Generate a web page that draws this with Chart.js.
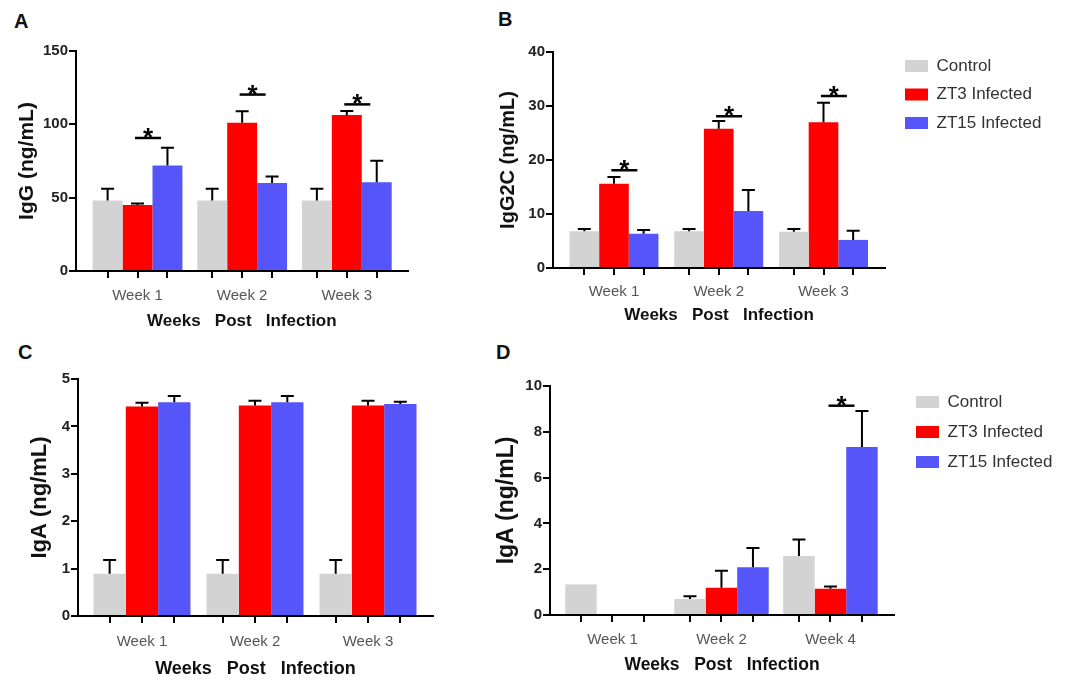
<!DOCTYPE html>
<html lang="en">
<head>
<meta charset="UTF-8" />
<title>Antibody titres by week</title>
<script src="https://cdn.jsdelivr.net/npm/chart.js"></script>
<style>
  body {
    margin: 0;
    background: #fff;
    width: 1082px;
    height: 682px;
    position: relative;
    overflow: hidden;
    font-family: Arial, "Liberation Sans", sans-serif;
  }
  canvas { position: absolute; }
  .panel {
    position: absolute;
    font-weight: bold;
    font-size: 20px;
    line-height: 20px;
    color: #111;
  }
</style>
</head>
<body>
<div class="panel" style="left:14px;top:11px">A</div>
<div class="panel" style="left:498px;top:9px">B</div>
<div class="panel" style="left:18px;top:342px">C</div>
<div class="panel" style="left:496px;top:342px">D</div>

<canvas id="chartA" width="480" height="340" style="left:0;top:0"></canvas>
<canvas id="chartB" width="602" height="340" style="left:480px;top:0"></canvas>
<canvas id="chartC" width="480" height="342" style="left:0;top:340px"></canvas>
<canvas id="chartD" width="602" height="342" style="left:480px;top:340px"></canvas>

<script>
  // groups and colours
  const groups = ["Control", "ZT3 Infected", "ZT15 Infected"];
  const colors = ["#d3d3d3", "#ff0000", "#5555fa"];

  const weeks = ["Week 1", "Week 2", "Week 3"];
  const weeksD = ["Week 1", "Week 2", "Week 4"];

  // A - IgG (ng/mL)
  const iggControl = [48, 48, 48];
  const iggControlErr = [8, 8, 8];
  const iggZT3 = [45, 101, 106.4];
  const iggZT3Err = [1, 8, 2.7];
  const iggZT15 = [72, 60, 60.5];
  const iggZT15Err = [12, 4.5, 14.7];
  const iggSig = [90.7, 120.3, 113.6]; // level of the * bar

  // B - IgG2C (ng/mL)
  const igg2cControl = [6.8, 6.8, 6.7];
  const igg2cControlErr = [0.4, 0.4, 0.5];
  const igg2cZT3 = [15.6, 25.8, 27.0];
  const igg2cZT3Err = [1.25, 1.4, 3.6];
  const igg2cZT15 = [6.35, 10.55, 5.2];
  const igg2cZT15Err = [0.7, 3.9, 1.7];
  const igg2cSig = [18.1, 28.1, 31.85];

  // C - IgA (ng/mL)
  const igaControl = [0.89, 0.89, 0.89];
  const igaControlErr = [0.29, 0.29, 0.29];
  const igaZT3 = [4.42, 4.44, 4.44];
  const igaZT3Err = [0.08, 0.1, 0.1];
  const igaZT15 = [4.51, 4.51, 4.47];
  const igaZT15Err = [0.13, 0.13, 0.05];

  // D - IgA (ng/mL), weeks 1, 2, 4
  const igaDControl = [1.34, 0.7, 2.58];
  const igaDControlErr = [0, 0.12, 0.72];
  const igaDZT3 = [0, 1.19, 1.15];
  const igaDZT3Err = [0, 0.74, 0.09];
  const igaDZT15 = [0, 2.08, 7.34];
  const igaDZT15Err = [0, 0.85, 1.57];
  const igaDSig = [null, null, 9.14];

  const family = 'Arial, "Liberation Sans", sans-serif';
  const legendFont = 17;

  // error bars (upper only) and significance marks
  const errorBars = {
    id: "errorBars",
    afterDatasetsDraw(chart, args, opts) {
      const ctx = chart.ctx;
      const ys = chart.scales.y;
      ctx.save();
      ctx.strokeStyle = "#000";
      ctx.lineWidth = 2;
      chart.data.datasets.forEach((ds, i) => {
        chart.getDatasetMeta(i).data.forEach((bar, j) => {
          const e = ds.errs[j];
          if (!e) return;
          const top = ys.getPixelForValue(ds.data[j].y + e);
          ctx.beginPath();
          ctx.moveTo(bar.x, bar.y);
          ctx.lineTo(bar.x, top);
          ctx.moveTo(bar.x - 6.5, top);
          ctx.lineTo(bar.x + 6.5, top);
          ctx.stroke();
        });
      });
      (opts.sig || []).forEach((lvl, j) => {
        if (lvl == null) return;
        const r = chart.getDatasetMeta(1).data[j];
        const b = chart.getDatasetMeta(2).data[j];
        const mid = (r.x + b.x) / 2 - 0.15 * r.width;
        const y = ys.getPixelForValue(lvl);
        ctx.lineWidth = 2.5;
        ctx.beginPath();
        ctx.moveTo(mid - 13, y);
        ctx.lineTo(mid + 13, y);
        ctx.stroke();
        ctx.fillStyle = "#000";
        ctx.font = "bold 26px " + family;
        ctx.textAlign = "center";
        ctx.textBaseline = "alphabetic";
        ctx.fillText("*", mid, y + 8);
      });
      ctx.restore();
    },
  };

  // nudge the legend away from the plot
  const legendShift = {
    id: "legendShift",
    afterLayout(chart, args, opts) {
      if (!opts.shift || !chart.legend) return;
      chart.legend.left += opts.shift;
      chart.legend.right += opts.shift;
    },
  };

  // width chart.js will give the vertical legend
  function legendWidth(pad) {
    const ctx = document.createElement("canvas").getContext("2d");
    ctx.font = legendFont + "px " + family;
    const w = Math.max(...groups.map((g) => ctx.measureText(g).width));
    return pad + 23 + legendFont / 2 + w + 10;
  }

  function makeChart(id, cfg) {
    const datasets = cfg.values.map((vals, i) => ({
      label: groups[i],
      data: vals.map((v, j) => ({ x: j, y: v })),
      errs: cfg.errs[i],
      backgroundColor: colors[i],
      borderWidth: 0,
      categoryPercentage: 3,
      barPercentage: 1,
    }));

    // one tick under every bar
    const tickValues = [];
    cfg.cats.forEach((c, k) => {
      tickValues.push(k - cfg.d, k, k + cfg.d);
    });

    const canvas = document.getElementById(id);
    const pad = Object.assign({}, cfg.pad);
    if (cfg.legend) {
      // right padding so that the plot ends at cfg.plotRight
      pad.right = canvas.width - cfg.plotRight - legendWidth(cfg.legendPad);
    }

    return new Chart(canvas, {
      type: "bar",
      data: { datasets },
      plugins: [errorBars, legendShift],
      options: {
        responsive: false,
        animation: false,
        devicePixelRatio: 1,
        layout: { padding: pad },
        plugins: {
          errorBars: { sig: cfg.sig },
          legendShift: { shift: cfg.legendShift || 0 },
          tooltip: { enabled: false },
          title: {
            display: !!cfg.spacer,
            text: " ",
            padding: 0,
            font: { size: cfg.spacer || 1, lineHeight: 1 },
          },
          legend: {
            display: !!cfg.legend,
            position: "right",
            align: "start",
            maxWidth: 400,
            labels: {
              boxWidth: 23,
              boxHeight: 12,
              padding: cfg.legendPad || 12,
              color: "#333",
              font: { size: legendFont, family },
            },
          },
        },
        scales: {
          x: {
            type: "linear",
            offset: false,
            bounds: "data",
            min: cfg.xMin,
            max: cfg.xMax,
            afterBuildTicks: (s) => {
              s.ticks = tickValues.map((v) => ({ value: v }));
            },
            afterFit: (s) => {
              s.height = cfg.xHeight;
            },
            ticks: {
              autoSkip: false,
              maxRotation: 0,
              padding: cfg.tickPad,
              color: "#555",
              font: { size: 15, family },
              callback: (v) => {
                const k = Math.round(v);
                return Math.abs(v - k) < 1e-6 ? cfg.cats[k] : "";
              },
            },
            grid: {
              offset: false,
              drawOnChartArea: false,
              color: "#000",
              lineWidth: 2,
              tickLength: 7,
            },
            border: { color: "#000", width: 2 },
            title: {
              display: true,
              text: "Weeks   Post   Infection",
              color: "#111",
              font: { size: cfg.xTitleSize, weight: "bold", family },
              padding: { top: 0, bottom: cfg.xTitlePad },
            },
          },
          y: {
            min: 0,
            max: cfg.yMax,
            afterFit: (s) => {
              s.width = cfg.yWidth;
            },
            ticks: {
              stepSize: cfg.yStep,
              padding: 1,
              color: "#222",
              font: { size: 15, weight: "bold", family },
            },
            grid: { drawOnChartArea: false, color: "#000", lineWidth: 2, tickLength: 7 },
            border: { color: "#000", width: 2 },
            title: {
              display: true,
              text: cfg.yTitle,
              color: "#111",
              font: { size: cfg.yTitleSize, weight: "bold", family },
              padding: { top: cfg.yTitlePad, bottom: 0 },
            },
          },
        },
      },
    });
  }

  makeChart("chartA", {
    cats: weeks,
    values: [iggControl, iggZT3, iggZT15],
    errs: [iggControlErr, iggZT3Err, iggZT15Err],
    sig: iggSig,
    pad: { left: 0, top: 51, right: 72.3, bottom: 0 },
    yWidth: 76, xHeight: 69,
    xMin: -0.588, xMax: 2.582, d: 0.286,
    yMax: 150, yStep: 50,
    yTitle: "IgG (ng/mL)", yTitleSize: 21, yTitlePad: 14.4,
    xTitleSize: 17, xTitlePad: 8.8, tickPad: 8.7,
  });

  makeChart("chartB", {
    cats: weeks,
    values: [igg2cControl, igg2cZT3, igg2cZT15],
    errs: [igg2cControlErr, igg2cZT3Err, igg2cZT15Err],
    sig: igg2cSig,
    pad: { left: 0, top: 46, right: 0, bottom: 0 },
    plotRight: 405,
    spacer: 6,
    yWidth: 73, xHeight: 72,
    xMin: -0.582, xMax: 2.587, d: 0.283,
    yMax: 40, yStep: 10,
    yTitle: "IgG2C (ng/mL)", yTitleSize: 20, yTitlePad: 16,
    xTitleSize: 17, xTitlePad: 14.8, tickPad: 7.7,
    legend: true, legendPad: 11.5, legendShift: 8.5,
  });

  makeChart("chartC", {
    cats: weeks,
    values: [igaControl, igaZT3, igaZT15],
    errs: [igaControlErr, igaZT3Err, igaZT15Err],
    sig: [],
    pad: { left: 0, top: 39, right: 47, bottom: 0 },
    yWidth: 78, xHeight: 66,
    xMin: -0.566, xMax: 2.575, d: 0.286,
    yMax: 5, yStep: 1,
    yTitle: "IgA (ng/mL)", yTitleSize: 22, yTitlePad: 26.8,
    xTitleSize: 18, xTitlePad: 2.2, tickPad: 10,
  });

  makeChart("chartD", {
    cats: weeksD,
    values: [igaDControl, igaDZT3, igaDZT15],
    errs: [igaDControlErr, igaDZT3Err, igaDZT15Err],
    sig: igaDSig,
    pad: { left: 0, top: 40.5, right: 0, bottom: 0 },
    plotRight: 414,
    spacer: 5.5,
    yWidth: 70, xHeight: 67,
    xMin: -0.573, xMax: 2.583, d: 0.289,
    yMax: 10, yStep: 2,
    yTitle: "IgA (ng/mL)", yTitleSize: 23, yTitlePad: 12.7,
    xTitleSize: 17.5, xTitlePad: 6.5, tickPad: 9,
    legend: true, legendPad: 13, legendShift: 9,
  });
</script>
</body>
</html>
